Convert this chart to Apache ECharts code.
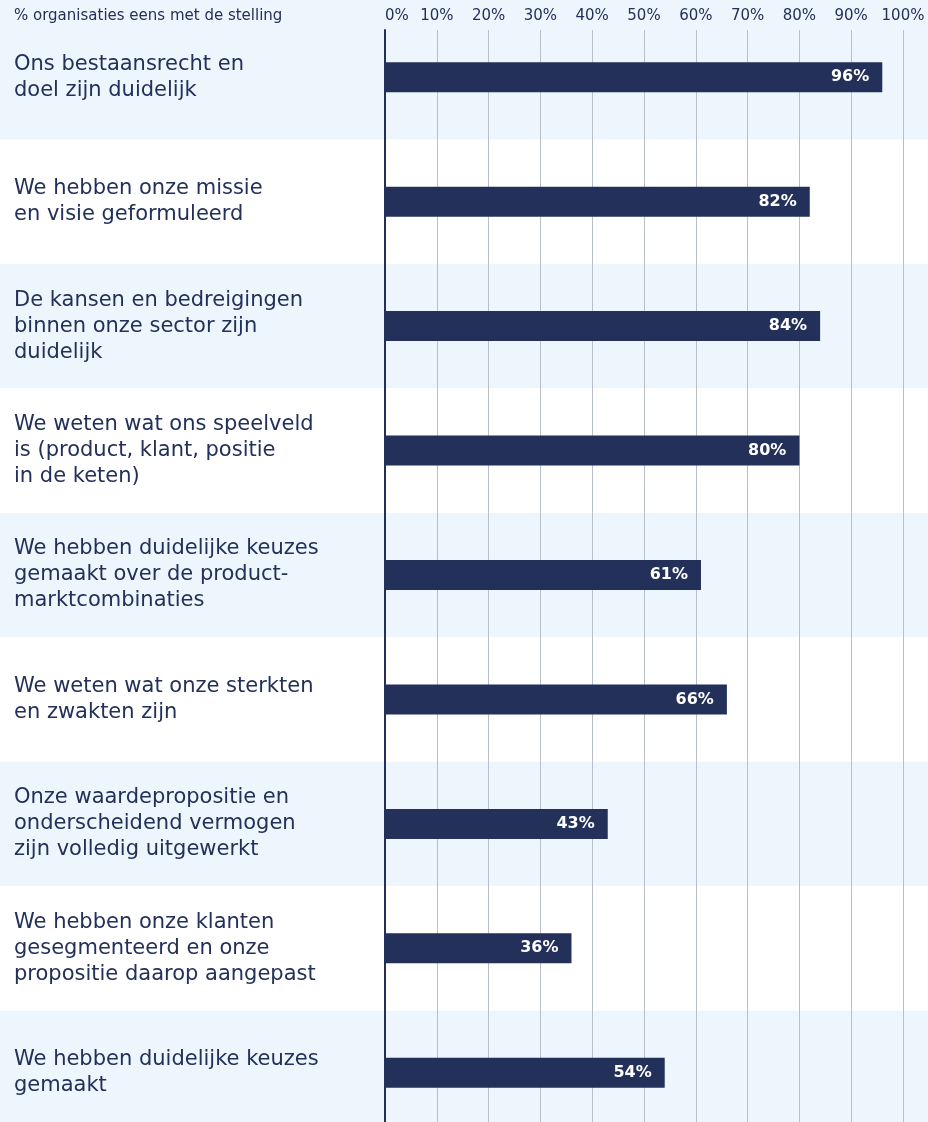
<!DOCTYPE html>
<html>
<head>
<meta charset="utf-8">
<script src="https://cdn.jsdelivr.net/npm/echarts@6/dist/echarts.min.js"></script>
<style>
  html, body { margin: 0; padding: 0; }
  #main { width: 928px; height: 1122px; }
</style>
</head>
<body>
<div id="main"></div>
<script>
const categories = [
  "Ons bestaansrecht en\ndoel zijn duidelijk",
  "We hebben onze missie\nen visie geformuleerd",
  "De kansen en bedreigingen\nbinnen onze sector zijn\nduidelijk",
  "We weten wat ons speelveld\nis (product, klant, positie\nin de keten)",
  "We hebben duidelijke keuzes\ngemaakt over de product-\nmarktcombinaties",
  "We weten wat onze sterkten\nen zwakten zijn",
  "Onze waardepropositie en\nonderscheidend vermogen\nzijn volledig uitgewerkt",
  "We hebben onze klanten\ngesegmenteerd en onze\npropositie daarop aangepast",
  "We hebben duidelijke keuzes\ngemaakt"
];
const values = [96, 82, 84, 80, 61, 66, 43, 36, 54];
const axisTitle = "% organisaties eens met de stelling";

const navy = "#22305a";
const font = "DejaVu Sans";

const myChart = echarts.init(document.getElementById("main"));
const option = {
  backgroundColor: "#eef6fd",
  animation: false,
  title: {
    text: axisTitle,
    left: 14,
    top: 9,
    padding: 0,
    textStyle: { fontFamily: font, fontSize: 15, fontWeight: "normal", color: navy }
  },
  grid: [
    // row bands + labels, full width (runs past the bottom edge)
    { left: 0, right: 0, top: 15, height: 1120, outerBoundsMode: "none" },
    // gridlines and percentage ticks
    { left: 385, right: 25, top: 30, bottom: 0, outerBoundsMode: "none" },
    // bars
    { left: 385, right: 25, top: 15, height: 1120, outerBoundsMode: "none" }
  ],
  xAxis: [
    { gridIndex: 0, type: "value", show: false },
    {
      gridIndex: 1,
      type: "value",
      min: 0,
      max: 100,
      interval: 10,
      position: "top",
      axisLine: { show: false },
      axisTick: { show: false },
      axisLabel: {
        formatter: "{value}%",
        margin: 6,
        fontFamily: font,
        fontSize: 15,
        color: navy,
        alignMinLabel: "left"
      },
      splitLine: { lineStyle: { color: "#b9bfc9", width: 1 } }
    },
    { gridIndex: 2, type: "value", min: 0, max: 100, show: false }
  ],
  yAxis: [
    {
      gridIndex: 0,
      type: "category",
      inverse: true,
      data: categories,
      axisLine: { show: false },
      axisTick: { show: false },
      axisLabel: {
        inside: true,
        align: "left",
        margin: 14,
        fontFamily: font,
        fontSize: 21,
        lineHeight: 26,
        color: navy
      },
      splitArea: {
        show: true,
        areaStyle: { color: ["rgba(0,0,0,0)", "#ffffff"] }
      }
    },
    {
      gridIndex: 1,
      type: "category",
      data: [],
      axisLine: { show: true, lineStyle: { color: navy, width: 2 } },
      axisTick: { show: false },
      axisLabel: { show: false }
    },
    {
      gridIndex: 2,
      type: "category",
      inverse: true,
      data: categories,
      show: false
    }
  ],
  series: [
    {
      type: "bar",
      xAxisIndex: 2,
      yAxisIndex: 2,
      data: values,
      barWidth: 30,
      itemStyle: { color: navy },
      z: 5,
      label: {
        show: true,
        position: "insideRight",
        distance: 13,
        formatter: "{c}%",
        color: "#ffffff",
        fontFamily: font,
        fontWeight: "bold",
        fontSize: 16
      }
    }
  ]
};
myChart.setOption(option);
</script>
</body>
</html>
